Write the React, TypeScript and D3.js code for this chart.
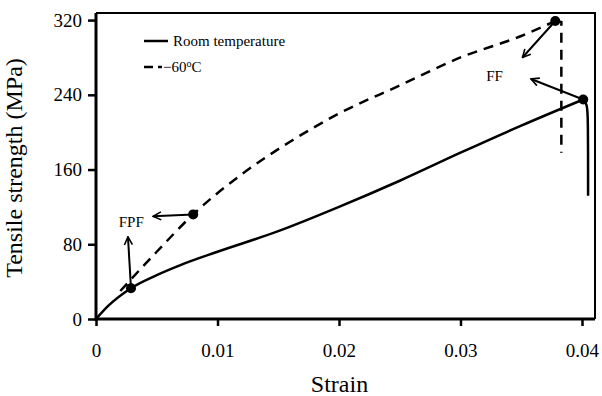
import { useEffect, useRef } from "react"
import * as d3 from "d3"

// Room temperature curve (strain, MPa)
const roomStrain = [0, 0.001, 0.00288, 0.005, 0.007, 0.01, 0.015, 0.02, 0.025, 0.03, 0.035, 0.0401]
const roomStress = [0, 14, 33, 47, 58, 72, 94, 120, 148, 178, 207, 235]
// drop after final fracture
const roomDropStrain = [0.0401, 0.0404, 0.0405, 0.0405]
const roomDropStress = [235, 230, 220, 132]

// -60 C curve
const coldStrain = [0.002, 0.005, 0.008, 0.012, 0.016, 0.02, 0.025, 0.03, 0.035, 0.0378]
const coldStress = [30, 72, 112, 155, 190, 220, 250, 280, 303, 319]
const coldDropStrain = [0.0378, 0.0383, 0.0383]
const coldDropStress = [319, 318, 178]

const xTicks = [0, 0.01, 0.02, 0.03, 0.04]
const yTicks = [0, 80, 160, 240, 320]

export default function App() {
  const svgRef = useRef<SVGSVGElement | null>(null)

  useEffect(() => {
    if (!svgRef.current) return
    d3.select(svgRef.current).selectAll("*").remove()

    const margin = { top: 13, left: 96 }
    const width = 499
    const height = 306
    const font = "'Liberation Serif', 'Times New Roman', serif"

    const root = d3.select(svgRef.current)
    const defs = root.append("defs")
    defs
      .append("marker")
      .attr("id", "arrow")
      .attr("viewBox", "0 0 10 10")
      .attr("refX", 9)
      .attr("refY", 5)
      .attr("markerWidth", 5)
      .attr("markerHeight", 5)
      .attr("markerUnits", "strokeWidth")
      .attr("orient", "auto")
      .append("path")
      .attr("d", "M1,1 L9,5 L1,9")
      .attr("fill", "none")
      .attr("stroke", "#000")
      .attr("stroke-width", 1.6)

    const svg = root.append("g").attr("transform", `translate(${margin.left},${margin.top})`)

    const x = d3.scaleLinear().domain([0, 0.04107]).range([0, width])
    const y = d3.scaleLinear().domain([0, 327.6]).range([height, 0])

    // frame top/right
    svg
      .append("path")
      .attr("d", `M0,0 H${width} V${height}`)
      .attr("fill", "none")
      .attr("stroke", "#000")
      .attr("stroke-width", 2)

    // axes
    const yAxis = svg
      .append("g")
      .call(d3.axisLeft(y).tickValues(yTicks).tickSize(8).tickPadding(6).tickFormat(d3.format("d")))
    const xAxis = svg
      .append("g")
      .attr("transform", `translate(0,${height})`)
      .call(d3.axisBottom(x).tickValues(xTicks).tickSize(7).tickPadding(18).tickFormat((d) => (d === 0 ? "0" : d3.format(".2f")(d as number))))
    ;[yAxis, xAxis].forEach((a) => {
      a.select(".domain").attr("stroke-width", 3)
      a.selectAll(".tick line").attr("stroke-width", 2.5)
      a.selectAll(".tick text").attr("font-family", font).attr("font-size", 19).attr("fill", "#000")
    })
    yAxis.select(".domain").attr("d", `M0,${height + 2}V0`)
    xAxis.select(".domain").attr("d", `M-1,0H${width}`)

    const line = d3
      .line<[number, number]>()
      .x((d) => x(d[0]))
      .y((d) => y(d[1]))
      .curve(d3.curveMonotoneX)
    const smooth = d3
      .line<[number, number]>()
      .x((d) => x(d[0]))
      .y((d) => y(d[1]))
      .curve(d3.curveBasis)

    const zip = (a: number[], b: number[]) => a.map((v, i) => [v, b[i]] as [number, number])

    svg.append("path").attr("d", line(zip(roomStrain, roomStress))).attr("fill", "none").attr("stroke", "#000").attr("stroke-width", 2.5)
    svg.append("path").attr("d", smooth(zip(roomDropStrain, roomDropStress))).attr("fill", "none").attr("stroke", "#000").attr("stroke-width", 2.5)
    svg.append("path").attr("d", line(zip(coldStrain, coldStress))).attr("fill", "none").attr("stroke", "#000").attr("stroke-width", 2.5).attr("stroke-dasharray", "10,7")
    svg.append("path").attr("d", d3.line<[number, number]>().x((d) => x(d[0])).y((d) => y(d[1]))(zip(coldDropStrain, coldDropStress))).attr("fill", "none").attr("stroke", "#000").attr("stroke-width", 2.5).attr("stroke-dasharray", "10,7")

    // failure points
    const dots: [number, number][] = [
      [0.00288, 33],
      [0.008, 112],
      [0.0378, 319],
      [0.0401, 235],
    ]
    svg
      .selectAll(".dot")
      .data(dots)
      .enter()
      .append("circle")
      .attr("cx", (d) => x(d[0]))
      .attr("cy", (d) => y(d[1]))
      .attr("r", 5)
      .attr("fill", "#000")

    // annotation arrows [from strain, from stress, to strain, to stress]
    const arrows = [
      [0.00288, 33, 0.00263, 88],
      [0.008, 112, 0.0047, 110],
      [0.0378, 319, 0.0351, 280],
      [0.0401, 235, 0.0358, 257],
    ]
    arrows.forEach((a) => {
      svg
        .append("line")
        .attr("x1", x(a[0]))
        .attr("y1", y(a[1]))
        .attr("x2", x(a[2]))
        .attr("y2", y(a[3]))
        .attr("stroke", "#000")
        .attr("stroke-width", 2)
        .attr("marker-end", "url(#arrow)")
    })

    svg.append("text").attr("x", x(0.0029)).attr("y", y(99)).attr("font-family", font).attr("font-size", 15).attr("text-anchor", "middle").text("FPF")
    svg.append("text").attr("x", x(0.0328)).attr("y", y(255)).attr("font-family", font).attr("font-size", 15).attr("text-anchor", "middle").text("FF")

    // legend
    const lg = svg.append("g").attr("transform", "translate(48,28)")
    lg.append("line").attr("x1", 0).attr("x2", 24).attr("y1", 0).attr("y2", 0).attr("stroke", "#000").attr("stroke-width", 2.5)
    lg.append("text").attr("x", 29).attr("y", 5).attr("font-family", font).attr("font-size", 15).text("Room temperature")
    lg.append("line").attr("x1", 0).attr("x2", 18).attr("y1", 26).attr("y2", 26).attr("stroke", "#000").attr("stroke-width", 2.5).attr("stroke-dasharray", "9,5")
    const t2 = lg.append("text").attr("x", 19).attr("y", 31).attr("font-family", font).attr("font-size", 15)
    t2.append("tspan").text("\u221260")
    t2.append("tspan").attr("font-size", 10).attr("dy", -5).text("o")
    t2.append("tspan").attr("dy", 5).text("C")

    // axis titles
    svg.append("text").attr("x", width / 2 - 6).attr("y", height + 73).attr("font-family", font).attr("font-size", 24).attr("text-anchor", "middle").text("Strain")
    svg
      .append("text")
      .attr("transform", `translate(-74,${height / 2 + 2}) rotate(-90)`)
      .attr("font-family", font)
      .attr("font-size", 24)
      .attr("text-anchor", "middle")
      .text("Tensile strength (MPa)")
  }, [])

  return (
    <svg ref={svgRef} width={602} height={396} style={{ position: "absolute", left: 0, top: 0, background: "#fff" }}></svg>
  )
}
